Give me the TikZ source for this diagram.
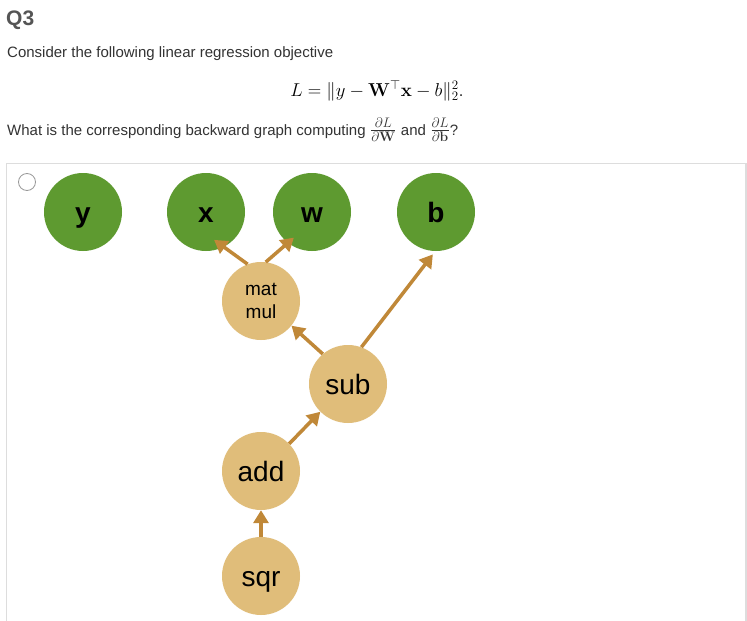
\documentclass[tikz,border=0pt]{standalone}
\usepackage{amsmath,amssymb}
\usepackage{graphicx}
\usepackage[no-math]{fontspec}
\setmainfont{Liberation Sans}
\usetikzlibrary{arrows.meta}
\definecolor{leaf}{HTML}{5E9A30}
\definecolor{op}{HTML}{E0BD7A}
\definecolor{arr}{HTML}{C08838}
\definecolor{qgray}{HTML}{555555}
\definecolor{txt}{HTML}{333333}
\definecolor{frame}{HTML}{DDDDDD}
\newcommand{\bigfrac}[2]{\raisebox{0pt}{\scalebox{1.15}{\fontsize{18}{20}\selectfont$\frac{#1}{#2}$}}}
\begin{document}
\begin{tikzpicture}[x=1pt,y=-1pt,
  leafnode/.style={circle,fill=leaf,minimum size=78pt,inner sep=0pt,text height=20pt,text depth=0pt,font=\fontsize{28}{30}\selectfont\bfseries},
  opnode/.style={circle,fill=op,minimum size=78pt,inner sep=0pt,text height=20pt,text depth=0pt,font=\fontsize{28}{30}\selectfont},
  smallop/.style={circle,fill=op,minimum size=78pt,inner sep=0pt,font=\fontsize{19}{23}\selectfont,align=center},
  back/.style={draw=arr,line width=3.5pt,-{Triangle[length=13pt,width=15pt]}},
  plain/.style={anchor=base west,inner sep=0pt,text=txt,font=\fontsize{15}{18}\selectfont}]
\useasboundingbox (0,0) rectangle (747,621);
\fill[white] (0,0) rectangle (747,621);
\node[anchor=base west,inner sep=0pt,text=qgray,font=\fontsize{21}{24}\selectfont\bfseries] (q) at (6,25) {Q3};
\node[plain] (t1) at (7,57) {Consider the following linear regression objective};
\node[anchor=base,inner sep=0pt,font=\fontsize{18}{21}\selectfont] (eq) at (377,96) {\scalebox{1.08}{$L=\|y-\mathbf{W}^{\top}\mathbf{x}-b\|_2^2.$}};
\node[plain] (t2) at (7,135) {What is the corresponding backward graph computing \bigfrac{\partial L}{\partial \mathbf{W}} and \bigfrac{\partial L}{\partial \mathbf{b}}?};
\draw[frame,line width=1.2pt] (6.5,630) -- (6.5,163.5) -- (746,163.5) -- (746,630);
\node[circle,draw=black!40,line width=0.8pt,minimum size=17pt,inner sep=0pt] (radio) at (27,182) {};
\node[leafnode] (y) at (83,212) {y};
\node[leafnode] (x) at (206,212) {x};
\node[leafnode] (w) at (312,212) {w};
\node[leafnode] (b) at (436,212) {b};
\node[smallop] (mm) at (261,301) {mat\\mul};
\node[opnode] (sub) at (348,384) {sub};
\node[opnode] (add) at (261,471) {add};
\node[opnode] (sqr) at (261,576) {sqr};
\draw[back,shorten >=-12pt] (mm.110) -- (x.-63);
\draw[back,shorten >=-8pt] (mm.83) -- (w.-128);
\draw[back] (sub.130) -- (mm.-39);
\draw[back,shorten >=4pt] (sub.70) -- (b.-91);
\draw[back] (add.44) -- (sub.-135);
\draw[back] (sqr.90) -- (add.-90);
\end{tikzpicture}
\end{document}
